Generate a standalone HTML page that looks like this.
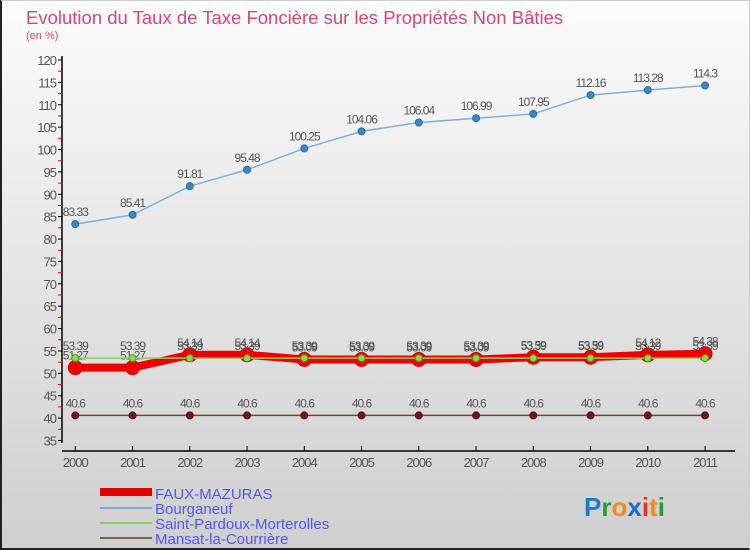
<!DOCTYPE html>
<html><head><meta charset="utf-8"><style>
body{margin:0}
#c{width:750px;height:550px;position:relative;background:linear-gradient(#fbfbfb,#cfcfcf);box-sizing:border-box;border-left:2px solid #222;border-bottom:2px solid #222;border-top:1px solid #ccc;border-right:1px solid #ccc;overflow:hidden;font-family:"Liberation Sans",sans-serif}
svg text{font-family:"Liberation Sans",sans-serif}
</style></head><body>
<div id="c">
<svg id="s" width="750" height="550" style="position:absolute;left:-2px;top:-1px">
<text x="26" y="24" font-size="18.5" fill="#d2487a">Evolution du Taux de Taxe Foncière sur les Propriétés Non Bâties</text>
<text x="26" y="39" font-size="11" fill="#d2487a">(en %)</text>
<g id="axes"></g><g id="series"></g>
<g>
<rect x="100" y="488" width="52" height="8" fill="#e00000"/><text x="155" y="499" font-size="15" fill="#5555ee">FAUX-MAZURAS</text>
<rect x="100" y="507" width="52" height="2" fill="#80a8c8"/><text x="155" y="514" font-size="15" fill="#5555ee">Bourganeuf</text>
<rect x="100" y="522" width="52" height="2" fill="#88cc66"/><text x="155" y="529" font-size="15" fill="#5555ee">Saint-Pardoux-Morterolles</text>
<rect x="100" y="537" width="52" height="2" fill="#8a5a5a"/><text x="155" y="544" font-size="15" fill="#5555ee">Mansat-la-Courrière</text>
</g>
<text x="584" y="516" font-size="26" font-weight="bold"><tspan fill="#1a7ad0">P</tspan><tspan fill="#2a9a3a">r</tspan><tspan fill="#f08a10">o</tspan><tspan fill="#1a6ad0">x</tspan><tspan fill="#e03a10">i</tspan><tspan fill="#f08a10">t</tspan><tspan fill="#2a9a3a">i</tspan></text>
</svg></div>
<script>
const years=["2000","2001","2002","2003","2004","2005","2006","2007","2008","2009","2010","2011"];
const faux=[51.27,51.27,54.14,54.14,53.09,53.09,53.09,53.09,53.59,53.59,54.12,54.38];
const bourg=[83.33,85.41,91.81,95.48,100.25,104.06,106.04,106.99,107.95,112.16,113.28,114.3];
const stp=[53.39,53.39,53.39,53.39,53.39,53.39,53.39,53.39,53.39,53.39,53.39,53.39];
const mansat=[40.6,40.6,40.6,40.6,40.6,40.6,40.6,40.6,40.6,40.6,40.6,40.6];
const yTicks=[35,40,45,50,55,60,65,70,75,80,85,90,95,100,105,110,115,120];
const NS="http://www.w3.org/2000/svg";
const X=i=>75.3+i*57.25, Y=v=>60+(120-v)*4.476;
function mk(t,a,p){const e=document.createElementNS(NS,t);for(const k in a)e.setAttribute(k,a[k]);p.appendChild(e);return e;}
const ax=document.getElementById('axes'), se=document.getElementById('series');
mk('line',{x1:62,y1:56,x2:62,y2:443,stroke:'#000','stroke-width':1.5},ax);
mk('line',{x1:62,y1:451,x2:735,y2:451,stroke:'#000','stroke-width':1.5},ax);
yTicks.forEach(v=>{
 mk('line',{x1:58,y1:Y(v),x2:62,y2:Y(v),stroke:'#000'},ax);
 if(v<120) mk('line',{x1:58,y1:Y(v+2.5),x2:62,y2:Y(v+2.5),stroke:'#e00'},ax);
 const t=mk('text',{x:56,y:Y(v)+5,'font-size':13,fill:'#555','text-anchor':'end','letter-spacing':'-1'},ax);
 
 
 t.textContent=v;
});
years.forEach((y,i)=>{
 mk('line',{x1:X(i),y1:446,x2:X(i),y2:451,stroke:'#000'},ax);
 const t=mk('text',{x:X(i),y:467,'font-size':13,fill:'#555','text-anchor':'middle','letter-spacing':'-1'},ax);
 
 
 t.textContent=y;
});
function series(name,data,color,w,r,dot,dotStroke){
 const g=mk('g',{},se);
 
 
 mk('polyline',{points:data.map((v,i)=>X(i)+','+Y(v)).join(' '),fill:'none',stroke:color,'stroke-width':w},g);
 data.forEach((v,i)=>{
  const c=mk('circle',{cx:X(i),cy:Y(v),r:r,fill:dot,stroke:dotStroke,'stroke-width':1},g);
  
  
  const t=mk('text',{x:X(i),y:Y(v)-8,'font-size':12,fill:'#555','text-anchor':'middle','letter-spacing':'-1'},g);
  
  
  t.textContent=v;
 });
}
series('bourganeuf-series',bourg,'#80b0d8',1.5,3.5,'#3a88c8','#2a6aa0');
series('mansat-series',mansat,'#7a4040',1.5,3.5,'#6a1a1a','#5a1010');
series('faux-mazuras-series',faux,'#ee0000',8,7,'#ee0000','#cc0000');
series('saint-pardoux-series',stp,'#88d060',1.5,3.5,'#88dd44','#559922');
</script>
</body></html>
